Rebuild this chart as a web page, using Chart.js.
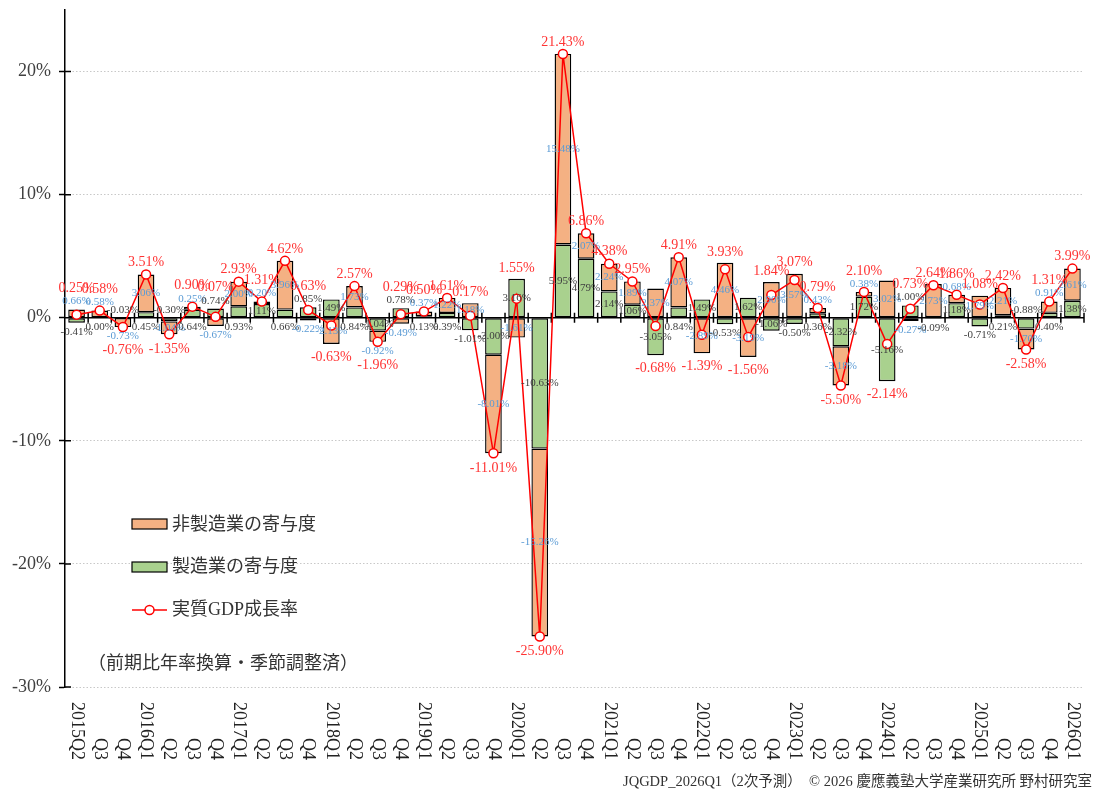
<!DOCTYPE html>
<html lang="ja">
<head>
<meta charset="utf-8">
<title>JQGDP 実質GDP成長率と産業別寄与度</title>
<script src="https://cdn.jsdelivr.net/npm/chart.js@4.4.1/dist/chart.umd.min.js"></script>
<style>
  html, body { margin: 0; padding: 0; background: #fff; }
  #wrap { position: relative; width: 1095px; height: 794px; }
</style>
</head>
<body>
<div id="wrap"><canvas id="gdpChart"></canvas></div>
<script>
// quarters shown on the x axis
const quarters = [
  "2015Q2", "Q3", "Q4",
  "2016Q1", "Q2", "Q3", "Q4",
  "2017Q1", "Q2", "Q3", "Q4",
  "2018Q1", "Q2", "Q3", "Q4",
  "2019Q1", "Q2", "Q3", "Q4",
  "2020Q1", "Q2", "Q3", "Q4",
  "2021Q1", "Q2", "Q3", "Q4",
  "2022Q1", "Q2", "Q3", "Q4",
  "2023Q1", "Q2", "Q3", "Q4",
  "2024Q1", "Q2", "Q3", "Q4",
  "2025Q1", "Q2", "Q3", "Q4",
  "2026Q1"
];

// 実質GDP成長率 (%)
const gdpGrowth = [
  0.25, 0.58, -0.76,
  3.51, -1.35, 0.90, 0.07,
  2.93, 1.31, 4.62, 0.63,
  -0.63, 2.57, -1.96, 0.29,
  0.50, 1.61, 0.17, -11.01,
  1.55, -25.90, 21.43, 6.86,
  4.38, 2.95, -0.68, 4.91,
  -1.39, 3.93, -1.56, 1.84,
  3.07, 0.79, -5.50, 2.10,
  -2.14, 0.73, 2.64, 1.86,
  1.08, 2.42, -2.58, 1.31,
  3.99
];

// 製造業の寄与度 (%)
const mfgContrib = [
  -0.41, 0.00, -0.03,
  0.45, -0.30, 0.64, 0.74,
  0.93, 1.11, 0.66, 0.85,
  1.49, 0.84, -1.04, 0.78,
  0.13, 0.39, -1.01, -3.00,
  3.16, -10.63, 5.95, 4.79,
  2.14, 1.06, -3.05, 0.84,
  1.49, -0.53, 1.62, -1.06,
  -0.50, 0.36, -2.32, 1.72,
  -5.16, 1.00, -0.09, 1.18,
  -0.71, 0.21, -0.88, 0.40,
  1.38
];

// 非製造業の寄与度 (%)
const nonMfgContrib = [
  0.66, 0.58, -0.73,
  3.06, -1.04, 0.25, -0.67,
  2.00, 0.20, 3.96, -0.22,
  -2.13, 1.73, -0.92, -0.49,
  0.37, 1.22, 1.18, -8.01,
  -1.61, -15.26, 15.48, 2.07,
  2.24, 1.89, 2.37, 4.07,
  -2.89, 4.46, -3.19, 2.90,
  3.57, 0.43, -3.18, 0.38,
  3.02, -0.27, 2.73, 0.68,
  1.79, 2.21, -1.70, 0.91,
  2.61
];

const yTickValues = [-30, -20, -10, 0, 10, 20];

const COLORS = {
  nonMfg: "#f4b183",
  mfg: "#a9d18e",
  gdp: "#ff0000",
  gdpText: "#ff3333",
  nonMfgText: "#5b9bd5",
  mfgText: "#404040",
  axisText: "#404040"
};
const SERIF = "'Liberation Serif', 'Noto Sans CJK JP', serif";
const pct = v => v.toFixed(2) + "%";

// zero line with the small category ticks, drawn under the bars/line
const zeroLinePlugin = {
  id: "zeroLine",
  beforeDatasetsDraw(chart) {
    const { ctx, chartArea, scales: { x, y } } = chart;
    const y0 = y.getPixelForValue(0);
    ctx.save();
    ctx.strokeStyle = "#000";
    ctx.lineWidth = 1.5;
    ctx.beginPath();
    ctx.moveTo(chartArea.left, y0);
    ctx.lineTo(chartArea.right, y0);
    const step = (chartArea.right - chartArea.left) / quarters.length;
    for (let i = 1; i <= quarters.length; i++) {
      const bx = x.getPixelForValue(i - 1) + step / 2;
      ctx.moveTo(bx, y0 - 5);
      ctx.lineTo(bx, y0 + 5);
    }
    // inner half of the y tick marks
    yTickValues.forEach(v => {
      const ty = y.getPixelForValue(v);
      ctx.moveTo(chartArea.left, ty);
      ctx.lineTo(chartArea.left + 6, ty);
    });
    ctx.stroke();
    ctx.restore();
  }
};

// value labels, rotated x labels, legend and footer
const annotatePlugin = {
  id: "annotate",
  afterDatasetsDraw(chart) {
    const { ctx, scales: { y } } = chart;
    const y0 = y.getPixelForValue(0);
    const mfgMeta = chart.getDatasetMeta(0);
    const nonMeta = chart.getDatasetMeta(1);
    const gdpMeta = chart.getDatasetMeta(2);

    ctx.save();
    ctx.textAlign = "center";
    ctx.textBaseline = "middle";

    quarters.forEach((q, i) => {
      const m = mfgContrib[i], n = nonMfgContrib[i], g = gdpGrowth[i];
      const mEl = mfgMeta.data[i], nEl = nonMeta.data[i], pEl = gdpMeta.data[i];
      const px = mEl.x;
      const above = [], below = [];

      // manufacturing (black)
      const mH = Math.abs(mEl.y - mEl.base);
      let mY;
      if (mH >= 12) mY = (mEl.y + mEl.base) / 2;
      else if (m >= 0) mY = n > 0 ? y0 + 9 : mEl.y - 8;
      else mY = n < 0 ? y0 - 8 : mEl.y + 9;
      if (mY < y0 && mH < 12) above.push(mY);
      if (mY > y0 && mH < 12) below.push(mY);

      // non-manufacturing (blue)
      const nH = Math.abs(nEl.y - nEl.base);
      let nY;
      if (nH >= 12) nY = (nEl.y + nEl.base) / 2;
      else if (n >= 0) nY = nEl.y - 8;
      else nY = nEl.y + 9;
      if (nH < 12) (n >= 0 ? above : below).push(nY);

      // GDP (red)
      let gY;
      if (g >= 0) {
        const posTop = Math.min(y0, m > 0 ? mEl.y : y0, n > 0 ? nEl.y : y0);
        gY = Math.min(pEl.y - 12, posTop - 11, ...above.map(v => v - 13));
      } else {
        const negBot = Math.max(y0, m < 0 ? mEl.y : y0, n < 0 ? nEl.y : y0);
        gY = Math.max(pEl.y + 15, negBot + 13, ...below.map(v => v + 14));
      }

      ctx.font = "11px " + SERIF;
      ctx.fillStyle = COLORS.mfgText;
      ctx.fillText(pct(m), px, mY);
      ctx.fillStyle = COLORS.nonMfgText;
      ctx.fillText(pct(n), px, nY);
      ctx.font = "14px " + SERIF;
      ctx.fillStyle = COLORS.gdpText;
      ctx.fillText(pct(g), px, gY);
    });
    ctx.restore();
  },
  afterDraw(chart) {
    const { ctx, scales: { x } } = chart;
    ctx.save();

    // x labels, rotated clockwise, bottom-aligned
    ctx.font = "18px " + SERIF;
    ctx.fillStyle = "#222";
    ctx.textAlign = "right";
    ctx.textBaseline = "middle";
    quarters.forEach((q, i) => {
      ctx.save();
      ctx.translate(x.getPixelForValue(i), 760);
      ctx.rotate(Math.PI / 2);
      ctx.fillText(q, 0, 0);
      ctx.restore();
    });

    // legend
    ctx.textAlign = "left";
    ctx.font = "18px " + SERIF;
    ctx.lineWidth = 1.2;
    ctx.strokeStyle = "#000";
    ctx.fillStyle = COLORS.nonMfg;
    ctx.fillRect(132, 519, 35, 10);
    ctx.strokeRect(132, 519, 35, 10);
    ctx.fillStyle = COLORS.mfg;
    ctx.fillRect(132, 562, 35, 10);
    ctx.strokeRect(132, 562, 35, 10);
    ctx.strokeStyle = COLORS.gdp;
    ctx.lineWidth = 1.5;
    ctx.beginPath();
    ctx.moveTo(132, 610);
    ctx.lineTo(167, 610);
    ctx.stroke();
    ctx.beginPath();
    ctx.arc(149.5, 610, 4.5, 0, Math.PI * 2);
    ctx.fillStyle = "#fff";
    ctx.fill();
    ctx.stroke();

    ctx.fillStyle = "#333";
    ctx.fillText("非製造業の寄与度", 172, 525);
    ctx.fillText("製造業の寄与度", 172, 567);
    ctx.fillText("実質GDP成長率", 172, 610);
    ctx.fillText("（前期比年率換算・季節調整済）", 88, 664);

    // footer
    ctx.font = "14.5px " + SERIF;
    ctx.textAlign = "right";
    ctx.fillStyle = "#333";
    ctx.fillText("JQGDP_2026Q1（2次予測）　© 2026 慶應義塾大学産業研究所 野村研究室", 1092, 782);
    ctx.restore();
  }
};

const ctx = document.getElementById("gdpChart").getContext("2d");
new Chart(ctx, {
  data: {
    labels: quarters,
    datasets: [
      {
        type: "bar",
        label: "製造業の寄与度",
        data: mfgContrib,
        backgroundColor: COLORS.mfg,
        borderColor: "#000",
        borderWidth: 1.4,
        borderSkipped: false,
        categoryPercentage: 0.8,
        barPercentage: 0.9,
        order: 2
      },
      {
        type: "bar",
        label: "非製造業の寄与度",
        data: nonMfgContrib,
        backgroundColor: COLORS.nonMfg,
        borderColor: "#000",
        borderWidth: 1.4,
        borderSkipped: false,
        categoryPercentage: 0.8,
        barPercentage: 0.9,
        order: 2
      },
      {
        type: "line",
        label: "実質GDP成長率",
        data: gdpGrowth,
        borderColor: COLORS.gdp,
        borderWidth: 1.5,
        pointRadius: 4.5,
        pointBackgroundColor: "#fff",
        pointBorderColor: COLORS.gdp,
        pointBorderWidth: 1.5,
        tension: 0,
        order: 1
      }
    ]
  },
  options: {
    responsive: true,
    maintainAspectRatio: false,
    animation: false,
    layout: { padding: { left: 0, right: 11, top: 10, bottom: 107 } },
    plugins: {
      legend: { display: false },
      tooltip: { enabled: false }
    },
    scales: {
      x: {
        type: "category",
        stacked: true,
        display: false,
        offset: true
      },
      y: {
        stacked: true,
        min: -30,
        max: 25,
        ticks: {
          stepSize: 10,
          color: COLORS.axisText,
          padding: 8,
          font: { family: SERIF, size: 18 },
          callback: v => (v % 10 === 0 ? v + "%" : null)
        },
        grid: {
          color: c => (c.tick && c.tick.value !== 0 && c.tick.value % 10 === 0) ? "#c8c8c8" : "rgba(0,0,0,0)",
          tickColor: c => (c.tick && c.tick.value % 10 === 0) ? "#000" : "rgba(0,0,0,0)",
          tickLength: 6,
          tickWidth: 1.5,
          lineWidth: 1
        },
        border: { display: true, color: "#000", width: 1.5, dash: [1.5, 2] },
        afterFit(scale) {
          scale.width = 65;
          scale.paddingTop = 0;
          scale.paddingBottom = 0;
        }
      }
    }
  },
  plugins: [zeroLinePlugin, annotatePlugin]
});
</script>
</body>
</html>
